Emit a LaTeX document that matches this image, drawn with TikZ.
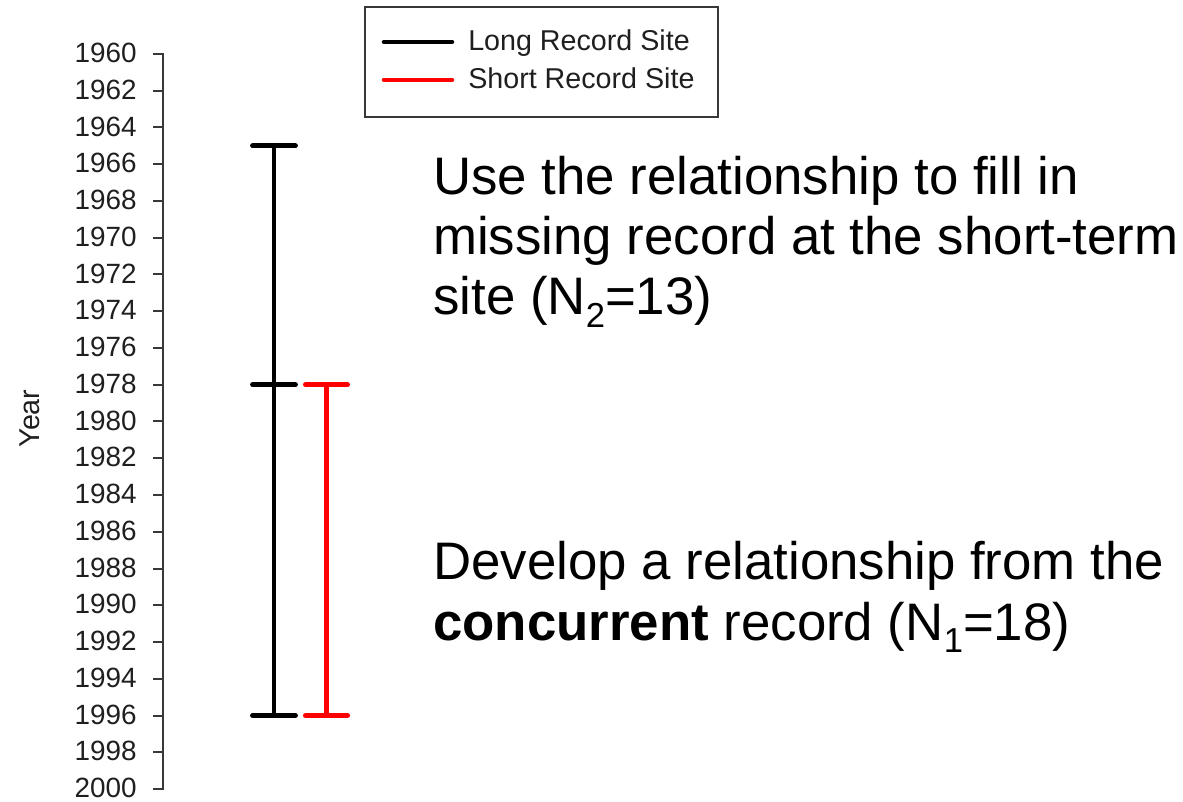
\documentclass[tikz,border=0pt]{standalone}
\usepackage{fontspec}
\setmainfont{Liberation Sans}
\newcommand{\lowsub}[1]{\raisebox{-0.24em}{\fontsize{26}{26}\selectfont #1}}
\begin{document}
\begin{tikzpicture}[x=0.75pt,y=-0.75pt,
  axisline/.style={draw=black!78, line width=1.5pt},
  bar/.style={line width=3.7pt, line cap=round},
  ticklabel/.style={anchor=east, inner sep=0pt, text=black!88,
    font=\fontsize{20.9}{20.9}\selectfont},
  note/.style={anchor=base west, inner sep=0pt,
    font=\fontsize{39.6}{45}\selectfont},
  legendtext/.style={anchor=base west, inner sep=0pt, text=black!88,
    font=\fontsize{21.5}{21.5}\selectfont}]
\useasboundingbox (0,0) rectangle (1183,802);

% year axis: 1960 at y=54, 2000 at y=789
\def\yrpos#1{54+18.375*(#1-1960)}
\coordinate (axtop) at (163,{\yrpos{1960}});
\coordinate (axbot) at (163,{\yrpos{2000}});
\draw[axisline, line cap=rect] (axtop) -- (axbot);
\foreach \i in {0,...,20}{
  \pgfmathtruncatemacro\yr{1960+2*\i}
  \coordinate (tick\yr) at (163,{\yrpos{\yr}});
  \draw[axisline] (tick\yr) -- ++(-10,0);
  \node[ticklabel] (lab\yr) at (137,{\yrpos{\yr}-1}) {\yr};
}
\node[rotate=90, inner sep=0pt, text=black!88, font=\fontsize{21.5}{21.5}\selectfont]
  (ylab) at (30,{\yrpos{1980}-3}) {Year};

% long record site: 1965--1996, with a mark at 1978
\coordinate (Ltop) at (274,{\yrpos{1965}});
\coordinate (Lmid) at (274,{\yrpos{1978}});
\coordinate (Lbot) at (274,{\yrpos{1996}});
\draw[bar, black] (Ltop) -- (Lbot);
\foreach \c in {Ltop,Lmid,Lbot}{
  \draw[bar, black] ([xshift=-16.1pt]\c) -- ([xshift=16.1pt]\c);
}

% short record site: 1978--1996
\coordinate (Stop) at (326.5,{\yrpos{1978}});
\coordinate (Sbot) at (326.5,{\yrpos{1996}});
\draw[bar, red] (Stop) -- (Sbot);
\foreach \c in {Stop,Sbot}{
  \draw[bar, red] ([xshift=-15.8pt]\c) -- ([xshift=15.8pt]\c);
}

% legend
\node[draw=black!78, line width=1.5pt, minimum width=264.75pt, minimum height=82.5pt,
  inner sep=0pt, anchor=north west] (legend) at (364,6) {};
\coordinate (k1a) at (384,42);
\coordinate (k1b) at (452,42);
\coordinate (k2a) at (384,80);
\coordinate (k2b) at (452,80);
\draw[bar, black, line width=3.4pt] (k1a) -- (k1b);
\draw[bar, red, line width=3.4pt] (k2a) -- (k2b);
\node[legendtext] (leg1) at (468,51) {Long Record Site};
\node[legendtext] (leg2) at (468,89) {Short Record Site};

% explanatory text
\node[note] (n1) at (433,195) {Use the relationship to fill in};
\node[note] (n2) at (433,255) {missing record at the short-term};
\node[note] (n3) at (433,315) {site (N\lowsub{2}=13)};
\node[note] (n4) at (433,580) {Develop a relationship from the};
\node[note] (n5) at (433,640) {\textbf{concurrent} record (N\lowsub{1}=18)};
\end{tikzpicture}
\end{document}
